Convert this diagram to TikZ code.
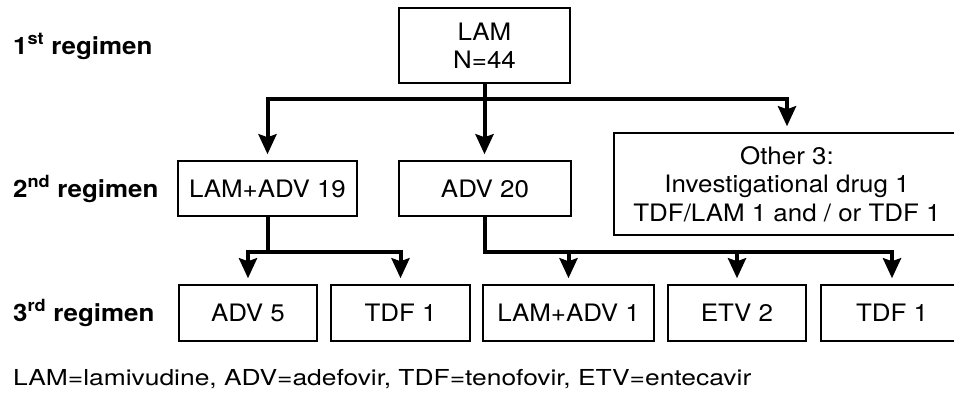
\documentclass[tikz,border=0pt]{standalone}
\usepackage{fontspec}
\setmainfont{TeX Gyre Heros}[FakeStretch=1.08]
\newfontfamily\fnfont{TeX Gyre Heros}[FakeStretch=1.2]
\usetikzlibrary{arrows.meta}
\tikzset{
  box/.style={draw=black, line width=1.5pt, inner sep=0pt, align=center,
    font=\fontsize{24}{28.5}\selectfont},
  rowlabel/.style={anchor=base west, inner sep=0pt, font=\fontsize{24}{28}\selectfont\bfseries},
  link/.style={line width=4pt, line join=miter},
  arr/.style={link, -{Stealth[length=20pt,width=18pt,inset=3pt]}, shorten >=6pt},
}
\begin{document}
\begin{tikzpicture}[x=1pt,y=-1pt]
\useasboundingbox (0,0) rectangle (954,397);
\clip (0,0) rectangle (954,397);
\fill[white] (0,0) rectangle (954,397);
% row labels
\node[rowlabel] (l1) at (13,54) {1\textsuperscript{st} regimen};
\node[rowlabel] (l2) at (13,197) {2\textsuperscript{nd} regimen};
\node[rowlabel] (l3) at (13,321) {3\textsuperscript{rd} regimen};
% boxes
\node[box, minimum width=171pt, minimum height=75pt] (lam) at (484.5,45.5) {LAM\\N=44};
\node[box, minimum width=179pt, minimum height=55pt] (r2a) at (267.5,188.5) {LAM+ADV 19};
\node[box, minimum width=172pt, minimum height=55pt] (r2b) at (485,188.5) {ADV 20};
\node[box, minimum width=346pt, minimum height=102pt] (r2c) at (787,184) {Other 3:\\Investigational drug 1\\TDF/LAM 1 and / or TDF 1};
\node[box, minimum width=138pt, minimum height=56pt] (r3a) at (248,313) {ADV 5};
\node[box, minimum width=139pt, minimum height=56pt] (r3b) at (400.5,313) {TDF 1};
\node[box, minimum width=171pt, minimum height=56pt] (r3c) at (568.5,313) {LAM+ADV 1};
\node[box, minimum width=138pt, minimum height=56pt] (r3d) at (737,313) {ETV 2};
\node[box, minimum width=142pt, minimum height=56pt] (r3e) at (892,313) {TDF 1};
% junctions
\coordinate (j1) at (lam.south |- 0,99);
\coordinate (j2) at (r2a.south |- 0,252);
\coordinate (j3) at (r2b.south |- 0,252);
% connectors
\draw[arr] (lam.south) -- (j1) -| (r2a.north);
\draw[arr] (lam.south) -- (j1) -| (r2c.north);
\draw[arr] (lam.south) -- (lam.south |- r2b.north);
\draw[arr] (r2a.south) -- (j2) -| (r3a.north);
\draw[arr] (r2a.south) -- (j2) -| (r3b.north);
\draw[arr] (r2b.south) -- (j3) -| (r3c.north);
\draw[arr] (r2b.south) -- (j3) -| (r3d.north);
\draw[arr] (r2b.south) -- (j3) -| (r3e.north);
% footnote
\node[anchor=base west, inner sep=0pt, font=\fnfont\fontsize{22}{26}\selectfont] (fn) at (13,385)
  {LAM=lamivudine, ADV=adefovir, TDF=tenofovir, ETV=entecavir};
\end{tikzpicture}
\end{document}
